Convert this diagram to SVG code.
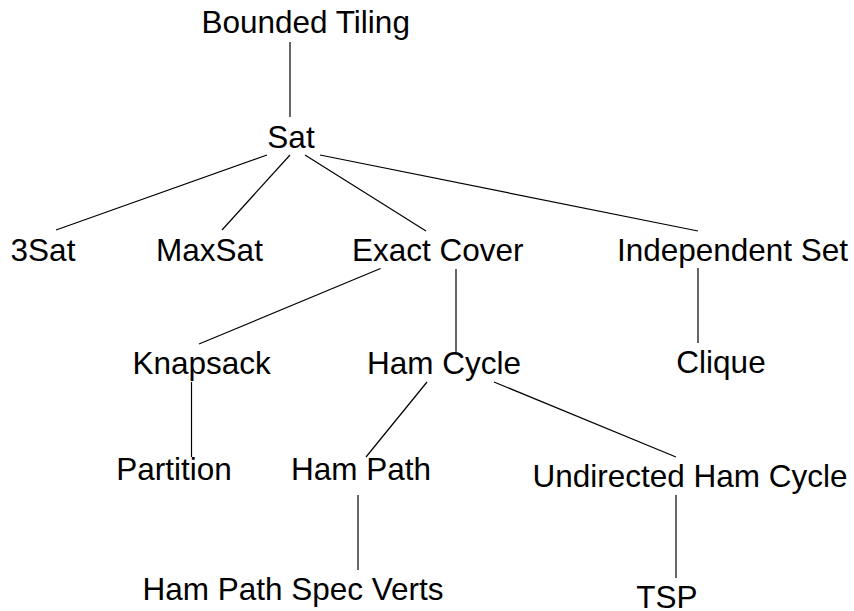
<svg xmlns="http://www.w3.org/2000/svg" width="854" height="611" viewBox="0 0 854 611">
<style>
  text { font-family: "Liberation Sans", Arial, sans-serif; font-size: 31.5px; fill: #000; text-anchor: middle; }
  .edges line { stroke: #000; stroke-width: 1.2; }
</style>
<rect width="854" height="611" fill="#fff"/>
<g class="edges" id="connectors">
  <line x1="290" y1="42" x2="290" y2="117"/>
  <line x1="267" y1="155" x2="56" y2="230"/>
  <line x1="290" y1="155" x2="222" y2="230"/>
  <line x1="305" y1="155" x2="426" y2="231"/>
  <line x1="320" y1="155" x2="698" y2="231"/>
  <line x1="380.5" y1="268.5" x2="199" y2="344"/>
  <line x1="456" y1="269" x2="456" y2="352"/>
  <line x1="698" y1="268" x2="698" y2="343"/>
  <line x1="191.5" y1="382" x2="191.5" y2="457"/>
  <line x1="427" y1="382" x2="366" y2="457"/>
  <line x1="494" y1="382" x2="676" y2="457"/>
  <line x1="358" y1="495" x2="358" y2="570"/>
  <line x1="676" y1="495" x2="676" y2="578"/>
</g>
<g id="bounded-tiling"><text x="305.7" y="33">Bounded Tiling</text></g>
<g id="sat"><text x="291" y="148">Sat</text></g>
<g id="3sat"><text x="43" y="261">3Sat</text></g>
<g id="maxsat"><text x="209.5" y="261">MaxSat</text></g>
<g id="exact-cover"><text x="437.7" y="261">Exact Cover</text></g>
<g id="independent-set"><text x="732.5" y="261">Independent Set</text></g>
<g id="knapsack"><text x="201.7" y="374">Knapsack</text></g>
<g id="ham-cycle"><text x="444" y="374">Ham Cycle</text></g>
<g id="clique"><text x="721" y="373">Clique</text></g>
<g id="partition"><text x="174" y="480">Partition</text></g>
<g id="ham-path"><text x="361" y="480">Ham Path</text></g>
<g id="undirected-ham-cycle"><text x="690" y="487">Undirected Ham Cycle</text></g>
<g id="ham-path-spec-verts"><text x="293" y="600">Ham Path Spec Verts</text></g>
<g id="tsp"><text x="667" y="608">TSP</text></g>
</svg>
